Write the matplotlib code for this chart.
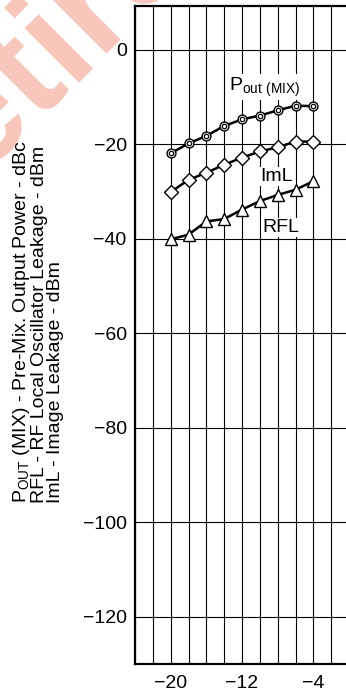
import numpy as np
import matplotlib
matplotlib.use("Agg")
import matplotlib.pyplot as plt
from matplotlib.ticker import FixedLocator, FixedFormatter

plt.rcParams['font.family'] = ['Liberation Sans', 'DejaVu Sans']
plt.rcParams['mathtext.fontset'] = 'custom'
plt.rcParams['mathtext.rm'] = 'Liberation Sans'

# data
lo_level = [-20, -18, -16, -14, -12, -10, -8, -6, -4]
pout_mix = [-21.9, -19.8, -18.2, -16.1, -14.7, -13.9, -12.8, -11.8, -11.9]
image_leak = [-30.1, -27.5, -26.0, -24.3, -22.8, -21.5, -20.6, -19.4, -19.4]
rf_leak = [-40.1, -39.1, -36.3, -35.8, -33.8, -32.0, -30.7, -29.6, -27.8]

x_grid = list(range(-24, 1, 2))
x_label_at = {-20: "−20", -12: "−12", -4: "−4"}
y_ticks = [0, -20, -40, -60, -80, -100, -120]
y_labels = ["0", "−20", "−40", "−60", "−80", "−100", "−120"]

W, H = 346, 692
fig = plt.figure(figsize=(W / 100, H / 100), dpi=100)

ax = fig.add_axes([135 / W, 28 / H, (349 - 135) / W, (664 - 6) / H])
ax.set_xlim(-24, 0)
ax.set_ylim(-130, 9.3)

ax.xaxis.set_major_locator(FixedLocator(x_grid))
ax.xaxis.set_major_formatter(FixedFormatter([x_label_at.get(v, "") for v in x_grid]))
ax.yaxis.set_major_locator(FixedLocator(y_ticks))
ax.yaxis.set_major_formatter(FixedFormatter(y_labels))
ax.tick_params(length=0, labelsize=14, colors='black')
ax.tick_params(axis='y', pad=6)
ax.tick_params(axis='x', pad=8)
ax.grid(True, color='black', linewidth=0.8)
ax.set_axisbelow(True)

for side in ['left', 'bottom', 'top']:
    ax.spines[side].set_linewidth(1.6)
ax.spines['right'].set_visible(False)

ax.plot(lo_level, pout_mix, color='black', lw=1.8, marker='o', ms=6.4,
        mfc='white', mec='black', mew=1.0, zorder=3)
ax.plot(lo_level, pout_mix, ls='none', marker='o', ms=3.2,
        mfc='white', mec='black', mew=0.9, zorder=4)
ax.plot(lo_level, image_leak, color='black', lw=1.8, marker='D', ms=6.8,
        mfc='white', mec='black', mew=1.0, zorder=3)
ax.plot(lo_level, rf_leak, color='black', lw=1.8, marker='^', ms=8,
        mfc='white', mec='black', mew=1.0, zorder=3)

box = dict(facecolor='white', edgecolor='none', pad=1)
ax.text(-9.5, -7.8, r"P$_\mathregular{out\ (MIX)}$", fontsize=14,
        ha='center', va='center', bbox=box, zorder=5)
ax.text(-8.1, -26.8, "ImL", fontsize=14, ha='center', va='center',
        bbox=box, zorder=5)
ax.text(-7.7, -37.6, "RFL", fontsize=14, ha='center', va='center',
        bbox=box, zorder=5)

fig.text(37.5 / W, 1 - 503 / H,
         "P$_\\mathregular{OUT}$ (MIX) - Pre-Mix. Output Power - dBc\n"
         "RFL - RF Local Oscillator Leakage - dBm\n"
         "ImL - Image Leakage - dBm",
         fontsize=14, rotation=90, ha='center', va='bottom',
         multialignment='left', linespacing=0.9)

# translucent watermark laid over the top-left corner
fig.text(-96 / W, 1 - 246 / H, "Retired", fontsize=104, fontweight='bold',
         color='#e8401c', alpha=0.3, rotation=45, rotation_mode='anchor',
         ha='left', va='baseline', zorder=10)

fig.savefig("out.png", dpi=100)
